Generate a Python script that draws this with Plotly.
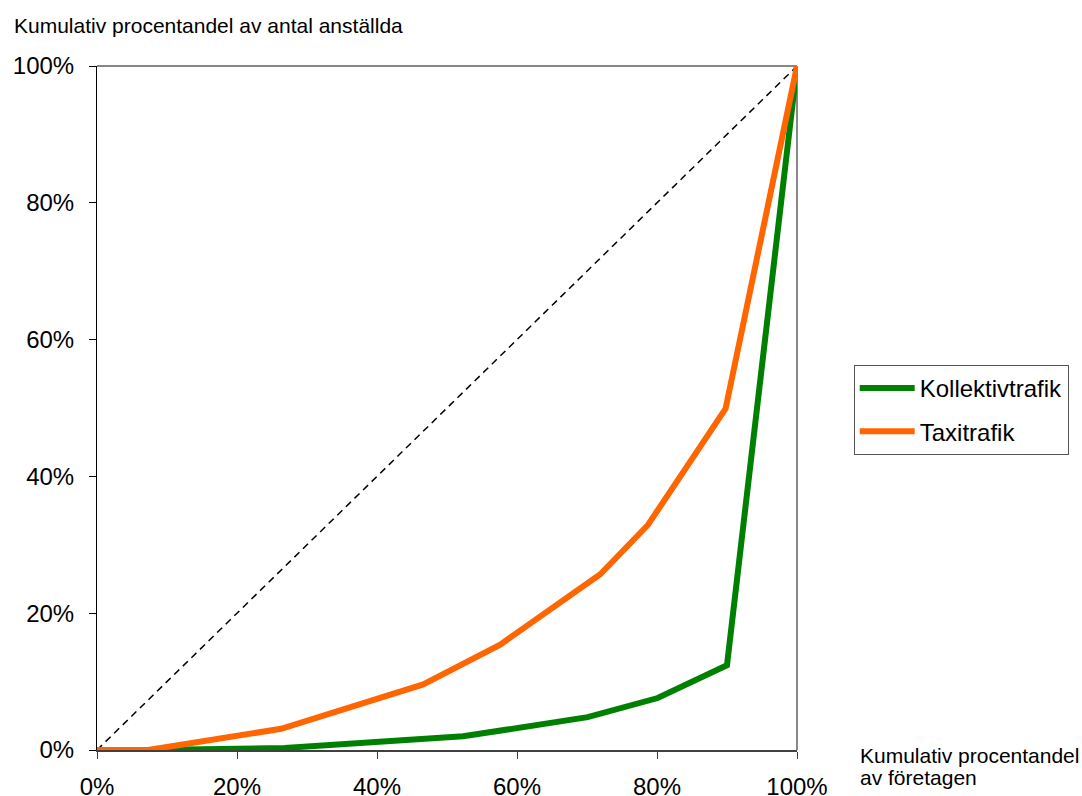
import plotly.graph_objects as go

# Lorenz-style cumulative shares: companies (x) vs employees (y)
kollektiv_x = [0.0, 0.073, 0.268, 0.523, 0.701, 0.801, 0.900, 1.0]
kollektiv_y = [0.0, 0.0, 0.003, 0.020, 0.048, 0.076, 0.124, 1.0]

taxi_x = [0.0, 0.073, 0.263, 0.466, 0.576, 0.719, 0.787, 0.898, 1.0]
taxi_y = [0.0, 0.0, 0.031, 0.096, 0.154, 0.257, 0.329, 0.499, 1.0]

equality_x = [0.0, 1.0]
equality_y = [0.0, 1.0]

tick_vals = [0, 0.2, 0.4, 0.6, 0.8, 1.0]
tick_text = ["0%", "20%", "40%", "60%", "80%", "100%"]

FONT = "Liberation Sans, Arial, sans-serif"

fig = go.Figure()

fig.add_trace(go.Scatter(
    x=equality_x, y=equality_y, mode="lines",
    line=dict(color="black", width=1.5, dash="7px,5px"),
    showlegend=False, hoverinfo="skip", cliponaxis=False,
))
fig.add_trace(go.Scatter(
    x=kollektiv_x, y=kollektiv_y, mode="lines", name="Kollektivtrafik",
    legendgroup="k", line=dict(color="#008000", width=6), cliponaxis=False,
))
fig.add_trace(go.Scatter(
    x=taxi_x, y=taxi_y, mode="lines", name="Taxitrafik",
    legendgroup="t", line=dict(color="#FF6600", width=6), cliponaxis=False,
))

fig.update_layout(
    width=1082, height=796,
    margin=dict(l=97, r=285, t=66, b=46),
    paper_bgcolor="white", plot_bgcolor="white",
    font=dict(family=FONT, size=24, color="black"),
    legend=dict(
        x=1.081, y=0.5629, xanchor="left", yanchor="top",
        bordercolor="#555555", borderwidth=1,
        font=dict(family=FONT, size=24, color="black"),
        traceorder="grouped", tracegroupgap=9, itemwidth=55,
    ),
    xaxis=dict(
        range=[0, 1], tickvals=tick_vals, ticktext=tick_text,
        showgrid=False, zeroline=False, automargin=False,
        showline=True, linecolor="#404040", linewidth=2,
        ticks="outside", ticklen=7, tickcolor="#404040", tickwidth=1,
        tickfont=dict(family=FONT, size=24), ticklabelstandoff=7,
    ),
    yaxis=dict(
        range=[0, 1], tickvals=tick_vals, ticktext=tick_text,
        showgrid=False, zeroline=False, automargin=False,
        showline=True, linecolor="black", linewidth=1,
        ticks="outside", ticklen=7, tickcolor="black", tickwidth=1,
        tickfont=dict(family=FONT, size=24), ticklabelstandoff=10,
    ),
    shapes=[
        dict(type="line", xref="paper", yref="paper", x0=0, x1=1, y0=1, y1=1,
             line=dict(color="#888888", width=2), layer="below"),
        dict(type="line", xref="paper", yref="paper", x0=1, x1=1, y0=0, y1=1,
             line=dict(color="#888888", width=2), layer="below"),
    ],
    annotations=[
        dict(text="Kumulativ procentandel av antal anställda",
             xref="paper", yref="paper", x=-0.1214, y=1.0585,
             xanchor="left", yanchor="middle", showarrow=False,
             font=dict(family=FONT, size=21)),
        dict(text="Kumulativ procentandel",
             xref="paper", yref="paper", x=1.087, y=0.011,
             xanchor="left", yanchor="top", align="left", showarrow=False,
             font=dict(family=FONT, size=21)),
        dict(text="av företagen",
             xref="paper", yref="paper", x=1.087, y=-0.0205,
             xanchor="left", yanchor="top", align="left", showarrow=False,
             font=dict(family=FONT, size=21)),
    ],
)

fig.write_html("out.html")
